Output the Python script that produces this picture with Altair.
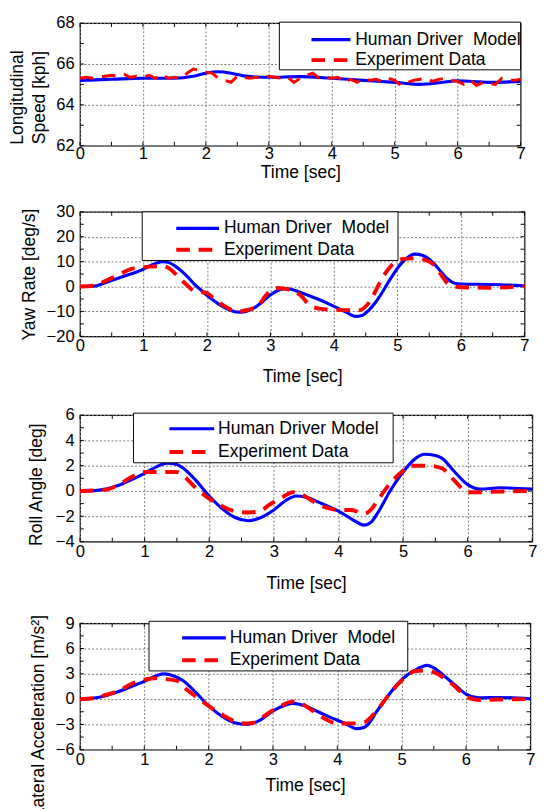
import altair as alt
import pandas as pd

FONT = "Liberation Sans"

# ---------------- data ----------------
x_major = [0, 1, 2, 3, 4, 5, 6, 7]
x_ticks = [0, 0.5, 1, 1.5, 2, 2.5, 3, 3.5, 4, 4.5, 5, 5.5, 6, 6.5, 7]
time_title = "Time [sec]"
legend_labels = ["Human Driver\u00a0\u00a0Model", "Experiment Data"]
legend_labels_roll = ["Human Driver Model", "Experiment Data"]

# Panel 1: longitudinal speed [kph]
speed_model_t = [0, 0.5, 1.0, 1.5, 1.8, 2.0, 2.2, 2.4, 2.6, 2.8, 3.0, 3.5, 4.0, 4.5, 5.0, 5.4, 5.8, 6.0, 6.5, 7.0]
speed_model_v = [65.2, 65.25, 65.3, 65.3, 65.4, 65.55, 65.62, 65.55, 65.42, 65.36, 65.35, 65.38, 65.3, 65.2, 65.1, 65.0, 65.12, 65.18, 65.1, 65.15]
speed_exp_t = [0.0, 0.1, 0.2, 0.3, 0.4, 0.5, 0.6, 0.7, 0.8, 0.9, 1.0, 1.1, 1.2, 1.3, 1.4, 1.5, 1.6, 1.7, 1.8, 1.9,
               2.0, 2.1, 2.2, 2.3, 2.4, 2.5, 2.6, 2.7, 2.8, 2.9, 3.0, 3.1, 3.2, 3.3, 3.4, 3.5, 3.6, 3.7, 3.8, 3.9,
               4.0, 4.1, 4.2, 4.3, 4.4, 4.5, 4.6, 4.7, 4.8, 4.9, 5.0, 5.1, 5.2, 5.3, 5.4, 5.5, 5.6, 5.7, 5.8, 5.9,
               6.0, 6.1, 6.2, 6.3, 6.4, 6.5, 6.6, 6.7, 6.8, 6.9, 7.0]
speed_exp_v = [65.3, 65.35, 65.3, 65.35, 65.4, 65.45, 65.4, 65.5, 65.35, 65.4, 65.35, 65.45, 65.3, 65.5, 65.3, 65.35, 65.3, 65.55, 65.75, 65.7,
               65.6, 65.55, 65.3, 65.2, 65.1, 65.4, 65.35, 65.3, 65.35, 65.3, 65.4, 65.35, 65.3, 65.35, 65.1, 65.3, 65.45, 65.55, 65.3, 65.35,
               65.3, 65.35, 65.1, 65.25, 65.1, 65.3, 65.2, 65.25, 65.15, 65.3, 65.2, 64.95, 65.1, 65.2, 65.25, 65.3, 65.15, 65.25, 65.3, 65.2,
               65.15, 65.0, 65.2, 64.95, 65.1, 65.05, 65.0, 65.3, 65.2, 65.2, 65.25]

# Panel 2: yaw rate [deg/s]
yaw_model_t = [0, 0.2, 0.4, 0.6, 0.8, 1.0, 1.1, 1.2, 1.3, 1.4, 1.5, 1.6, 1.7, 1.8, 1.9, 2.0, 2.1, 2.2, 2.3, 2.4, 2.5, 2.6, 2.7, 2.8, 2.9,
               3.0, 3.1, 3.2, 3.3, 3.4, 3.5, 3.6, 3.7, 3.8, 3.9, 4.0, 4.1, 4.2, 4.33, 4.45, 4.55, 4.65, 4.75, 4.85, 4.95,
               5.05, 5.15, 5.27, 5.4, 5.5, 5.6, 5.7, 5.8, 5.9, 6.0, 6.5, 7.0]
yaw_model_v = [0, 0.1, 1.5, 3.3, 5.0, 7.0, 8.3, 9.4, 10.0, 9.6, 8.2, 6.2, 3.8, 1.0, -1.3, -3.5, -5.5, -7.3, -8.8, -9.8, -10.3, -10.1, -9.2, -7.6, -5.5,
               -3.4, -1.8, -1.0, -1.0, -1.7, -2.6, -3.6, -4.6, -5.6, -6.8, -8.0, -9.2, -10.4, -12.0, -11.5, -9.5, -6.5, -2.8, 1.5, 5.5,
               9.0, 11.5, 13.0, 12.5, 11.0, 8.5, 5.5, 2.8, 1.3, 1.0, 0.8, 0.3]
yaw_exp_t = [0, 0.2, 0.4, 0.6, 0.8, 1.0, 1.1, 1.2, 1.3, 1.4, 1.5, 1.6, 1.7, 1.8, 1.9, 2.0, 2.1, 2.2, 2.3, 2.4, 2.5, 2.6, 2.7, 2.8, 2.9,
             3.0, 3.1, 3.2, 3.3, 3.4, 3.5, 3.6, 3.7, 3.8, 3.9, 4.0, 4.2, 4.4, 4.5, 4.6, 4.7, 4.8, 4.9, 5.0, 5.1, 5.3, 5.5, 5.6, 5.7,
             5.8, 5.9, 6.0, 6.5, 7.0]
yaw_exp_v = [0, 0.3, 2.2, 4.6, 7.0, 7.8, 8.0, 8.1, 8.2, 7.4, 5.2, 2.6, 0.2, -1.8, -2.2, -2.6, -4.6, -6.6, -8.2, -9.5, -10.0, -9.6, -9.0, -8.0, -4.5,
             -1.6, -0.6, -0.8, -1.2, -2.2, -4.2, -7.2, -8.5, -9.0, -9.2, -9.3, -9.5, -9.5, -8.0, -4.5, 0.5, 5.0, 8.3, 10.3, 11.1, 11.3, 10.0, 8.0, 4.2,
             1.0, 0.0, -0.3, -0.5, 0.2]

# Panel 3: roll angle [deg]
roll_model_t = [0, 0.2, 0.4, 0.6, 0.8, 1.0, 1.2, 1.35, 1.5, 1.6, 1.8, 2.0, 2.2, 2.4, 2.6, 2.8, 3.0, 3.2, 3.35, 3.5, 3.7, 4.0,
                4.2, 4.4, 4.5, 4.6, 4.8, 5.0, 5.2, 5.33, 5.5, 5.6, 5.8, 6.0, 6.2, 6.5, 7.0]
roll_model_v = [0, 0.02, 0.15, 0.45, 0.9, 1.4, 1.95, 2.2, 2.1, 1.8, 0.8, -0.4, -1.4, -2.1, -2.35, -2.1, -1.5, -0.7, -0.4, -0.5, -0.9, -1.6,
                -2.2, -2.7, -2.5, -1.8, 0.0, 1.5, 2.6, 2.9, 2.8, 2.6, 1.5, 0.5, 0.15, 0.25, 0.15]
roll_exp_t = [0, 0.4, 0.6, 0.8, 1.0, 1.2, 1.5, 1.6, 1.8, 2.0, 2.2, 2.4, 2.6, 2.8, 2.9, 3.1, 3.3, 3.4, 3.6, 3.8, 4.0, 4.2,
              4.4, 4.5, 4.6, 4.8, 5.0, 5.1, 5.4, 5.6, 5.8, 6.0, 6.2, 6.5, 7.0]
roll_exp_v = [0, 0.1, 0.5, 1.1, 1.5, 1.5, 1.5, 1.2, 0.2, -0.6, -1.2, -1.6, -1.7, -1.6, -1.2, -0.6, -0.1, -0.2, -0.8, -1.3, -1.5, -1.5,
              -1.8, -1.5, -0.8, 0.6, 1.6, 2.0, 2.0, 1.8, 0.8, -0.1, -0.1, -0.05, 0]

# Panel 4: lateral acceleration [m/s^2]
lat_model_t = [0, 0.2, 0.4, 0.6, 0.8, 1.0, 1.2, 1.3, 1.4, 1.6, 1.8, 2.0, 2.2, 2.4, 2.6, 2.8, 3.0, 3.2, 3.3, 3.5, 3.7, 3.9,
               4.1, 4.3, 4.4, 4.5, 4.6, 4.8, 5.0, 5.2, 5.4, 5.5, 5.7, 5.9, 6.0, 6.2, 6.5, 7.0]
lat_model_v = [0, 0.1, 0.4, 0.9, 1.5, 2.1, 2.8, 3.0, 2.9, 2.2, 0.8, -0.8, -2.0, -2.8, -3.0, -2.5, -1.4, -0.7, -0.5, -0.8, -1.5, -2.2,
               -2.8, -3.5, -3.4, -2.8, -1.6, 0.5, 2.3, 3.4, 4.0, 3.7, 2.5, 1.2, 0.6, 0.15, 0.2, 0.05]
lat_exp_t = [0, 0.2, 0.4, 0.6, 0.8, 1.0, 1.2, 1.3, 1.5, 1.6, 1.8, 2.0, 2.2, 2.4, 2.6, 2.7, 2.9, 3.1, 3.3, 3.4, 3.6, 3.8,
             4.0, 4.2, 4.4, 4.6, 4.8, 5.0, 5.2, 5.4, 5.5, 5.7, 5.9, 6.0, 6.2, 6.5, 7.0]
lat_exp_v = [0, 0.1, 0.5, 1.0, 1.8, 2.3, 2.5, 2.4, 2.2, 1.5, 0.3, -0.8, -1.8, -2.6, -2.9, -2.8, -1.8, -0.9, -0.3, -0.4, -1.3, -2.3,
             -2.9, -2.9, -2.8, -1.5, 0.5, 2.2, 3.3, 3.4, 3.2, 2.3, 1.0, 0.3, -0.1, -0.05, 0]


def panel(model_t, model_v, exp_t, exp_v, ydomain, yticks, yminor, ytitle,
          W, H, title_x, title_y, xlabel_pad, xtitle_pad, leg, labels, exp_width, exp_interp):
    xs = alt.Scale(domain=[0, 7], nice=False, zero=False)
    ys = alt.Scale(domain=ydomain, nice=False, zero=False)
    xaxis = alt.Axis(values=x_major, format="d", title=time_title, grid=True, ticks=False,
                     tickSize=0, domain=False, labelFlush=False, labelOverlap=False,
                     labelPadding=xlabel_pad, titlePadding=xtitle_pad)
    yaxis = alt.Axis(values=yticks, format="d", title=ytitle, grid=True, ticks=False,
                     tickSize=0, domain=False, labelFlush=False, labelOverlap=False,
                     labelPadding=6, titleX=title_x, titleY=title_y, titleLineHeight=23)
    X = alt.X("t:Q", scale=xs, axis=xaxis)
    Y = alt.Y("v:Q", scale=ys, axis=yaxis)

    dm = pd.DataFrame({"t": model_t, "v": model_v})
    de = pd.DataFrame({"t": exp_t, "v": exp_v})
    dxt = pd.DataFrame({"t": x_ticks})
    dyt = pd.DataFrame({"v": yminor})
    one = pd.DataFrame({"k": [0]})

    tb = alt.Chart(dxt).mark_rule(color="black").encode(x=X, y=alt.value(H), y2=alt.value(H - 4))
    tt = alt.Chart(dxt).mark_rule(color="black").encode(x=X, y=alt.value(0), y2=alt.value(4))
    tl = alt.Chart(dyt).mark_rule(color="black").encode(y=Y, x=alt.value(0), x2=alt.value(4))
    tr = alt.Chart(dyt).mark_rule(color="black").encode(y=Y, x=alt.value(W), x2=alt.value(W - 4))

    model = alt.Chart(dm).mark_line(color="#0000ff", strokeWidth=3.2, interpolate="monotone").encode(x=X, y=Y)
    exp = alt.Chart(de).mark_line(color="#ff0000", strokeWidth=exp_width, strokeDash=[14, 9],
                                  interpolate=exp_interp).encode(x=X, y=Y)

    bx0, bx1, by0, by1, s0, s1, tx, r1, r2 = leg
    box = alt.Chart(one).mark_rect(fill="white", stroke="black", strokeWidth=1).encode(
        x=alt.value(bx0), x2=alt.value(bx1), y=alt.value(by0), y2=alt.value(by1))
    sym1 = alt.Chart(one).mark_rule(color="#0000ff", strokeWidth=3.2).encode(
        x=alt.value(s0), x2=alt.value(s1), y=alt.value(r1))
    sym2 = alt.Chart(one).mark_rule(color="#ff0000", strokeWidth=4, strokeDash=[14, 9]).encode(
        x=alt.value(s0), x2=alt.value(s1), y=alt.value(r2))
    txt1 = alt.Chart(one).mark_text(align="left", baseline="middle", fontSize=18, font=FONT, color="black").encode(
        x=alt.value(tx), y=alt.value(r1), text=alt.value(labels[0]))
    txt2 = alt.Chart(one).mark_text(align="left", baseline="middle", fontSize=18, font=FONT, color="black").encode(
        x=alt.value(tx), y=alt.value(r2), text=alt.value(labels[1]))

    return alt.layer(tb, tt, tl, tr, model, exp, box, sym1, sym2, txt1, txt2).properties(width=W, height=H)


p1 = panel(speed_model_t, speed_model_v, speed_exp_t, speed_exp_v, [62, 68], [62, 64, 66, 68],
           [62, 63, 64, 65, 66, 67, 68], ["Longitudinal", "Speed [kph]"],
           453, 126, -55, 76, 0, 3, (205, 453, -1, 48, 238, 278, 283, 17, 38), legend_labels, 3, "linear")
p2 = panel(yaw_model_t, yaw_model_v, yaw_exp_t, yaw_exp_v, [-20, 30], [-20, -10, 0, 10, 20, 30],
           [-20, -15, -10, -5, 0, 5, 10, 15, 20, 25, 30], "Yaw Rate [deg/s]",
           457, 128, -43, 64, 2, 14, (64, 327, 0, 50, 99, 143, 148, 17, 39), legend_labels, 4, "monotone")
p3 = panel(roll_model_t, roll_model_v, roll_exp_t, roll_exp_v, [-4, 6], [-4, -2, 0, 2, 4, 6],
           [-4, -3, -2, -1, 0, 1, 2, 3, 4, 5, 6], "Roll Angle [deg]",
           465, 130, -36, 71, 2, 16, (55, 322, -2, 49, 92, 138, 142, 14, 38), legend_labels_roll, 4, "monotone")
p4 = panel(lat_model_t, lat_model_v, lat_exp_t, lat_exp_v, [-6, 9], [-6, -3, 0, 3, 6, 9],
           [-6, -4.5, -3, -1.5, 0, 1.5, 3, 4.5, 6, 7.5, 9], "Lateral Acceleration [m/s²]",
           463, 130, -33, 95, 2, 10, (71, 337, -2, 49, 105, 150, 154, 15, 38), legend_labels, 4, "monotone")

chart = alt.vconcat(p1, p2, p3, p4, spacing=20).properties(
    padding={"left": 0, "top": -6, "right": 0, "bottom": 0}, background="white"
).configure_view(stroke="black", strokeWidth=1.2).configure_axis(
    labelFont=FONT, titleFont=FONT, labelFontSize=17, titleFontSize=18, titleFontWeight="normal",
    labelColor="black", titleColor="black", gridColor="#777777", gridDash=[2, 2], gridWidth=1, gridOpacity=1
)

chart.save("out.html", embed_options={"renderer": "svg", "actions": False})
